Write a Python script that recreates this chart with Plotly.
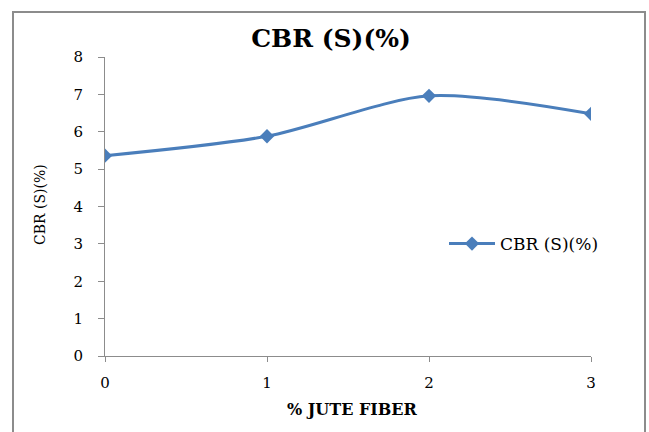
import plotly.graph_objects as go

x_vals = [0, 1, 2, 3]
cbr_vals = [5.36, 5.88, 6.96, 6.48]
series_name = "CBR (S)(%)"
y_ticks = [0, 1, 2, 3, 4, 5, 6, 7, 8]

W, H = 649, 432
L, R, T, B = 105, 58, 57, 76
pw, ph = W - L - R, H - T - B

def px_x(p):
    return (p - L) / pw

def px_y(p):
    return (H - B - p) / ph

font = "DejaVu Serif"

fig = go.Figure()
fig.add_trace(go.Scatter(
    x=x_vals, y=cbr_vals, name=series_name, mode="lines+markers",
    line=dict(color="#4a7ebb", width=3, shape="spline", smoothing=0.8),
    marker=dict(symbol="diamond", size=11, color="#4a7ebb"),
))

fig.update_layout(
    width=W, height=H, margin=dict(l=L, r=R, t=T, b=B),
    paper_bgcolor="white", plot_bgcolor="white",
    font=dict(family=font, color="black", size=14),
    title=dict(text="<b>CBR (S)(%)</b>", x=331 / W, xanchor="center",
               y=1 - 38 / H, yanchor="middle", font=dict(size=25, family=font)),
    showlegend=True,
    legend=dict(x=px_x(444), y=px_y(244), xanchor="left", yanchor="middle",
                itemwidth=46,
                bgcolor="rgba(0,0,0,0)", font=dict(size=17, family=font)),
    xaxis=dict(range=[0, 3], tickvals=x_vals, showgrid=False, zeroline=False,
               showline=True, linecolor="#8c8c8c", linewidth=1,
               ticks="outside", ticklen=5, tickcolor="#8c8c8c",
               tickfont=dict(size=15), ticklabelstandoff=8),
    yaxis=dict(range=[0, 8], tickvals=y_ticks, showgrid=False, zeroline=False,
               showline=True, linecolor="#8c8c8c", linewidth=1,
               ticks="outside", ticklen=6, tickcolor="#8c8c8c",
               tickfont=dict(size=15), ticklabelstandoff=12),
)

fig.add_annotation(text="<b>% JUTE FIBER</b>", xref="paper", yref="paper",
                   x=px_x(352), y=px_y(409), xanchor="center", yanchor="middle",
                   showarrow=False, font=dict(size=16, family=font))
fig.add_annotation(text="CBR (S)(%)", xref="paper", yref="paper",
                   x=px_x(40), y=px_y(205), xanchor="center", yanchor="middle",
                   textangle=-90, showarrow=False, font=dict(size=14, family=font))

fig.add_shape(type="rect", xref="paper", yref="paper",
              x0=px_x(13), x1=px_x(645), y0=px_y(445), y1=px_y(12),
              line=dict(color="#8c8c8c", width=2), fillcolor="rgba(0,0,0,0)", layer="below")

fig.write_html("out.html")
